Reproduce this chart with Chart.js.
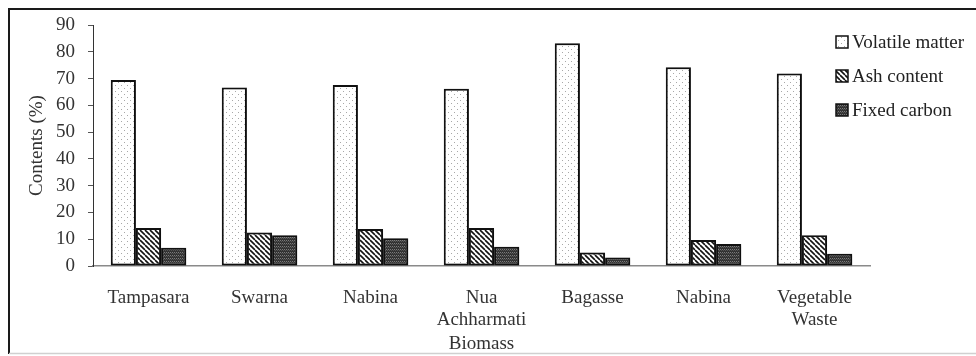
<!DOCTYPE html>
<html>
<head>
<meta charset="utf-8">
<script src="https://cdn.jsdelivr.net/npm/chart.js@4"></script>
<style>
  html, body { margin: 0; padding: 0; background: #fff; }
  #wrap { width: 976px; height: 356px; }
</style>
</head>
<body>
<div id="wrap"><canvas id="chart" width="976" height="356"></canvas></div>
<script>
// Data
const categories = ["Tampasara", "Swarna", "Nabina", ["Nua", "Achharmati"], "Bagasse", "Nabina", ["Vegetable", "Waste"]]
const volatileMatter = [69.5, 66.7, 67.6, 66.2, 83.2, 74.2, 71.9]
const ashContent = [14.2, 12.5, 13.8, 14.2, 5.0, 9.7, 11.5]
const fixedCarbon = [6.8, 11.5, 10.4, 7.2, 3.2, 8.2, 4.6]
const yTicks = [0, 10, 20, 30, 40, 50, 60, 70, 80, 90]

const canvas = document.getElementById("chart")
const ctx = canvas.getContext("2d")

// Fill patterns
function makePattern(w, h, draw) {
  const c = document.createElement("canvas")
  c.width = w
  c.height = h
  draw(c.getContext("2d"))
  return ctx.createPattern(c, "repeat")
}

const dots = makePattern(6, 6, (p) => {
  p.fillStyle = "#fff"
  p.fillRect(0, 0, 6, 6)
  p.fillStyle = "#a8a8a8"
  p.fillRect(1, 1, 1, 1)
  p.fillRect(4, 4, 1, 1)
})

const stripes = makePattern(5, 5, (p) => {
  p.fillStyle = "#fff"
  p.fillRect(0, 0, 5, 5)
  p.strokeStyle = "#111"
  p.lineWidth = 1.6
  for (const o of [-5, 0, 5]) {
    p.beginPath()
    p.moveTo(o, 0)
    p.lineTo(o + 5, 5)
    p.stroke()
  }
})

const darkGrid = makePattern(4, 3, (p) => {
  p.fillStyle = "#333"
  p.fillRect(0, 0, 4, 3)
  p.fillStyle = "#7a7a7a"
  p.fillRect(0, 0, 1, 1)
  p.fillRect(2, 0, 1, 1)
  p.fillStyle = "#555"
  p.fillRect(1, 1, 1, 1)
  p.fillRect(3, 1, 1, 1)
})

const serif = "'Liberation Serif', 'Times New Roman', serif"
const fontSize = 19

// Frame, bar shadow and a legend floating inside the plot's top right
const framePlugin = {
  id: "frame",
  beforeDraw(chart) {
    const c = chart.ctx
    c.save()
    c.fillStyle = "#fff"
    c.fillRect(0, 0, chart.width, chart.height)
    c.strokeStyle = "#1a1a1a"
    c.lineWidth = 2
    c.beginPath()
    c.moveTo(9, 354)
    c.lineTo(9, 9)
    c.lineTo(chart.width, 9)
    c.stroke()
    c.strokeStyle = "#d0d0d0"
    c.lineWidth = 1.5
    c.beginPath()
    c.moveTo(9, 353.5)
    c.lineTo(chart.width, 353.5)
    c.stroke()
    c.restore()
  },
  beforeDatasetsDraw(chart) {
    const c = chart.ctx
    c.save()
    c.shadowColor = "rgba(0,0,0,0.28)"
    c.shadowBlur = 3
    c.shadowOffsetX = 2
    c.shadowOffsetY = 1
  },
  afterDatasetsDraw(chart) {
    chart.ctx.restore()
  },
  afterDraw(chart) {
    const c = chart.ctx
    const area = chart.chartArea
    const x = area.right - 34
    let y = area.top + 17
    c.save()
    c.font = fontSize + "px " + serif
    c.textBaseline = "middle"
    chart.data.datasets.forEach((ds) => {
      c.fillStyle = ds.backgroundColor
      c.fillRect(x, y - 6, 12, 12)
      c.strokeStyle = "#111"
      c.lineWidth = 1.5
      c.strokeRect(x, y - 6, 12, 12)
      c.fillStyle = "#222"
      c.fillText(ds.label, x + 16, y + 1)
      y += 34
    })
    c.restore()
  },
}

new Chart(ctx, {
  type: "bar",
  data: {
    labels: categories,
    datasets: [
      { label: "Volatile matter", data: volatileMatter, backgroundColor: dots },
      { label: "Ash content", data: ashContent, backgroundColor: stripes },
      { label: "Fixed carbon", data: fixedCarbon, backgroundColor: darkGrid },
    ],
  },
  options: {
    responsive: false,
    animation: false,
    layout: { padding: { left: 26, top: 25, right: 106, bottom: 0 } },
    datasets: {
      bar: {
        borderColor: "#111",
        borderWidth: 2,
        borderSkipped: false,
        categoryPercentage: 0.68,
        barPercentage: 1,
      },
    },
    plugins: {
      legend: { display: false },
      tooltip: { enabled: false },
    },
    scales: {
      x: {
        grid: { display: false },
        border: { display: true, color: "#8a8a8a", width: 1.5 },
        ticks: { font: { family: serif, size: fontSize, lineHeight: 1.15 }, color: "#333", padding: 13 },
        title: {
          display: true,
          text: "Biomass",
          font: { family: serif, size: fontSize },
          color: "#333",
          padding: { top: 0, bottom: 1 },
        },
        afterFit: (scale) => { scale.height = 90 },
      },
      y: {
        min: 0,
        max: 90,
        afterBuildTicks: (scale) => { scale.ticks = yTicks.map((v) => ({ value: v })) },
        grid: { display: true, drawOnChartArea: false, drawTicks: true, tickLength: 5, color: "#555" },
        border: { display: true, color: "#333", width: 1 },
        ticks: { font: { family: serif, size: fontSize }, color: "#333", padding: 13 },
        title: {
          display: true,
          text: "Contents (%)",
          font: { family: serif, size: fontSize },
          color: "#333",
          padding: { top: 0, bottom: 4 },
        },
        afterFit: (scale) => { scale.width = 67 },
      },
    },
  },
  plugins: [framePlugin],
})
</script>
</body>
</html>
